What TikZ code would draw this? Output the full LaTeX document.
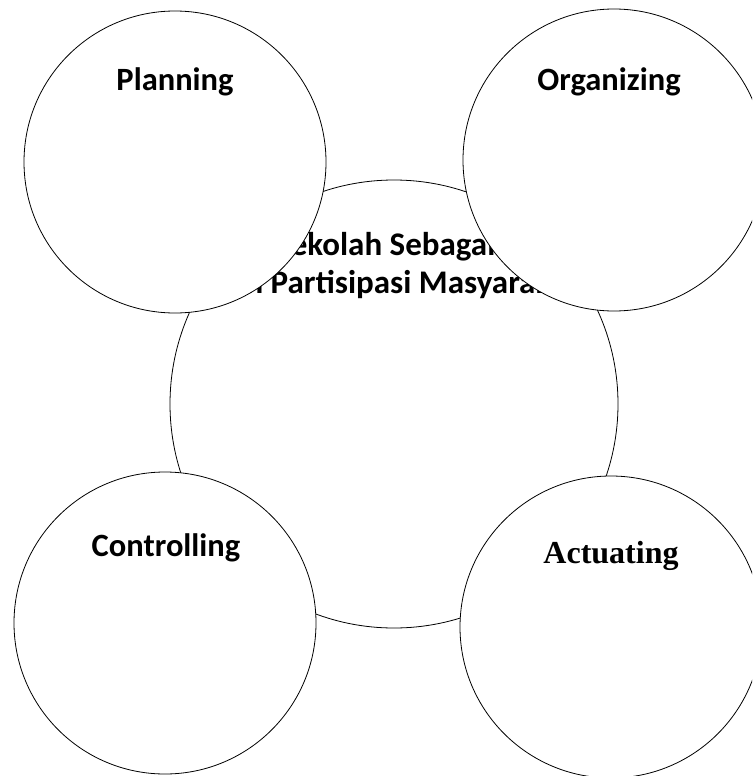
\documentclass[tikz,border=0pt]{standalone}
\usepackage{fontspec}
\setmainfont{Carlito}
\newfontfamily\timesfont{Liberation Serif}
\begin{document}
\begin{tikzpicture}[x=1pt,y=-1pt,
  ring/.style={circle, draw=black, line width=0.8pt, fill=white, inner sep=0pt, minimum size=#1},
  caption/.style={font=\fontsize{32.5}{38}\selectfont\bfseries, inner sep=0pt}]
\useasboundingbox (0,0) rectangle (752,776);
\clip (0,0) rectangle (752,776);
% central circle with its title
\node[ring=448pt] (core) at (394,404) {};
\node[caption, anchor=base west, font=\fontsize{33}{38}\selectfont\bfseries] (coreA) at (275,255) {Sekolah Sebagai};
\node[caption, anchor=base west, font=\fontsize{33}{38}\selectfont\bfseries] (coreB) at (229,293) {an Partisipasi Masyarakat};
% the four management functions
\node[ring=302pt] (plan) at (175,162) {};
\node[ring=302pt] (org)  at (614,160) {};
\node[ring=302pt] (ctrl) at (165,623) {};
\node[ring=302pt] (act)  at (611,627) {};
\node[caption, anchor=base] (planT) at (175,90) {Planning};
\node[caption, anchor=base] (orgT)  at (609,90) {Organizing};
\node[caption, anchor=base] (ctrlT) at (166,556) {Controlling};
\node[caption, anchor=base, font=\fontsize{32}{38}\selectfont\timesfont\bfseries] (actT) at (611,563) {Actuating};
\end{tikzpicture}
\end{document}
